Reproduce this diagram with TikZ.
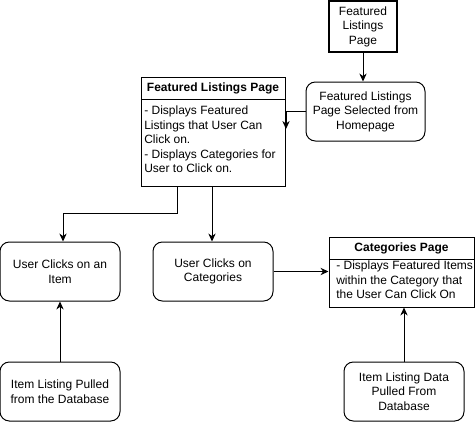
\documentclass[tikz,border=0pt]{standalone}
\usepackage{fontspec}
\setmainfont{Liberation Sans}
\usetikzlibrary{arrows.meta}
\begin{document}
\begin{tikzpicture}[x=0.75pt,y=-0.75pt,
  every node/.style={font=\fontsize{9}{10.9}\selectfont, inner sep=0pt},
  rbox/.style={draw, rounded corners=7pt, minimum width=90pt, minimum height=44.25pt, align=center, line width=0.75pt},
  plain/.style={draw, line width=0.75pt},
  arr/.style={line width=0.75pt, -{Stealth[length=6pt,width=5.5pt]}},
  conn/.style={line width=0.75pt}
]
\useasboundingbox (0,0) rectangle (475,422);
% top thick box
\node[draw, line width=1.6pt, minimum width=51pt, minimum height=38.25pt, align=center] (top) at (363,26.5) {Featured\\Listings\\Page};
% selected from homepage
\node[rbox, minimum width=89.25pt] (sel) at (365.5,111.5) {Featured Listings\\Page Selected from\\Homepage};
% Featured Listings Page list box
\node[plain, minimum width=108pt, minimum height=81.75pt] (flp) at (213,131.5) {};
\node[font=\fontsize{9}{10.9}\selectfont\bfseries] (flph) at (213,88) {Featured Listings Page};
\draw[conn] (141,99) coordinate (flpdl) -- (285,99) coordinate (flpdr);
\node[anchor=north west, align=left] (flpb) at (144,105.5) {- Displays Featured\\Listings that User Can\\Click on.\\- Displays Categories for\\User to Click on.};
% user clicks
\node[rbox] (item) at (60,271.5) {User Clicks on an\\Item};
\node[rbox] (cat) at (213,271.5) {User Clicks on\\Categories};
% categories page
\node[plain, minimum width=108.75pt, minimum height=52.5pt] (cp) at (401.5,272) {};
\node[font=\fontsize{9}{10.9}\selectfont\bfseries] (cph) at (401.5,248) {Categories Page};
\draw[conn] (329,259) coordinate (cpdl) -- (474,259) coordinate (cpdr);
\node[anchor=north west, align=left] (cpb) at (336,260.5) {- Displays Featured Items\\within the Category that\\the User Can Click On};
% databases
\node[rbox] (db1) at (60,391.5) {Item Listing Pulled\\from the Database};
\node[rbox] (db2) at (404,391.5) {Item Listing Data\\Pulled From\\Database};
% connectors
\draw[arr] (top.south) -- (top.south |- sel.north);
\coordinate (c1) at (286,129);
\draw[arr] (sel.west) -| (c1);
\coordinate (b1) at (177,186);
\draw[arr] (b1) |- (63,213) -- (item.north -| 63,0);
\coordinate (b2) at (212,186);
\draw[arr] (b2) -- (cat.north -| b2);
\draw[arr] (cat.east) -- (cp.west |- cat.east);
\draw[arr] (db1.north) -- (item.south);
\draw[arr] (db2.north) -- (cp.south -| db2.north);
\end{tikzpicture}
\end{document}
